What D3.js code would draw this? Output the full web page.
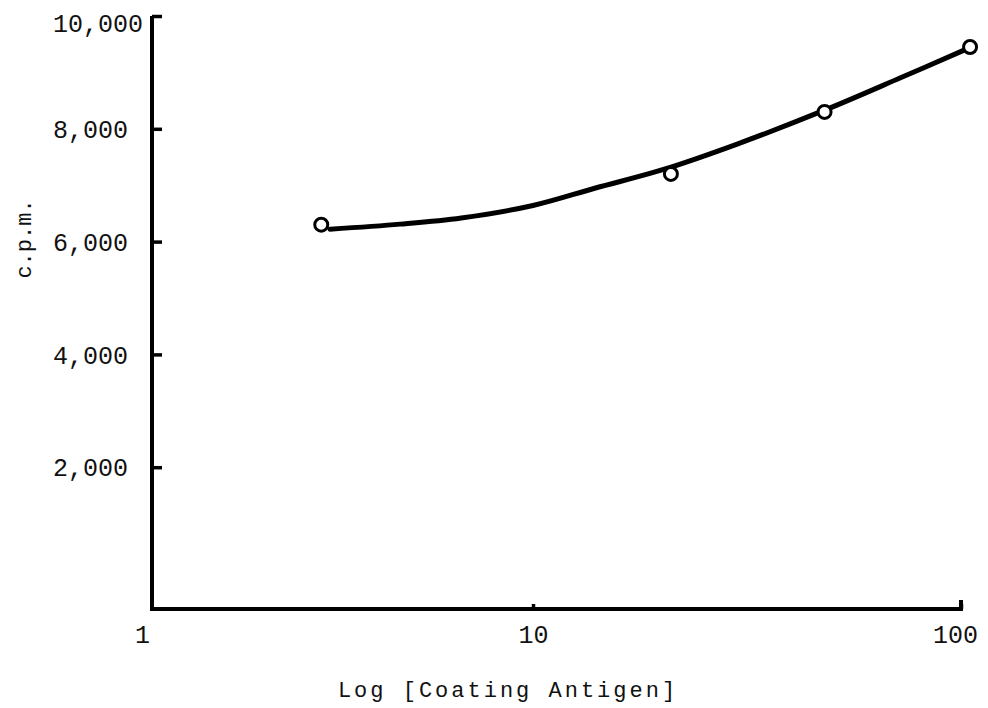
<!DOCTYPE html>
<html>
<head>
<meta charset="UTF-8">
<title>c.p.m. vs Log [Coating Antigen]</title>
<script src="https://cdn.jsdelivr.net/npm/d3@7"></script>
<style>
  body { margin: 0; background: #fff; }
  text { font-family: "Liberation Mono", "DejaVu Sans Mono", monospace; fill: #111; }
  .axis path, .axis line { stroke: #000; }
</style>
</head>
<body>
<svg width="988" height="708"></svg>
<script>
// measured points (circles)
var xValues = [2.8, 21, 48, 105];
var yValues = [6300, 7200, 8300, 9450];
// smooth fitted curve
var fitX = [2.95, 4.5, 6.5, 10, 14, 20, 30, 48, 72, 102];
var fitY = [6220, 6310, 6420, 6640, 6950, 7270, 7730, 8330, 8900, 9400];
// ticks
var xTicks = [1, 10, 100];
var yTicks = [2000, 4000, 6000, 8000, 10000];

var svg = d3.select("svg");

// hand drawn axis: decades are not quite the same width
var x = d3.scaleLog().domain([1, 10, 100]).range([150, 533, 961]);
var y = d3.scaleLinear().domain([-514, 10000]).range([609, 16]);

// y axis, ticks pointing inward
var yAxis = svg.append("g")
  .attr("class", "axis")
  .attr("transform", "translate(152,0)")
  .call(d3.axisLeft(y).tickValues(yTicks).tickFormat(d3.format(",")).tickSize(-10).tickSizeOuter(0));
yAxis.select(".domain").attr("stroke-width", 4).attr("d", "M0," + y(10000) + "V" + y(-514));
yAxis.selectAll(".tick line").attr("stroke-width", 3.5);
yAxis.selectAll(".tick text")
  .attr("x", -99)
  .attr("dy", "0.35em")
  .attr("text-anchor", "start")
  .style("font-size", "25px");
yAxis.selectAll(".tick").filter(function(d) { return d == 10000; })
  .select("text").attr("dy", "0.6em");

// x axis
var xAxis = svg.append("g")
  .attr("class", "axis")
  .attr("transform", "translate(0,609)")
  .call(d3.axisBottom(x).tickValues(xTicks).tickFormat(d3.format("d")).tickSize(-5).tickSizeOuter(0));
xAxis.select(".domain").attr("stroke-width", 4).attr("d", "M150,0H961V-9");
xAxis.selectAll(".tick line").attr("stroke-width", 3.5);
xAxis.selectAll(".tick text")
  .attr("y", 25)
  .attr("dy", "0.35em")
  .style("font-size", "25px");
xAxis.selectAll(".tick").filter(function(d) { return d == 1; })
  .select("line").remove();
xAxis.selectAll(".tick").filter(function(d) { return d == 1; })
  .select("text").attr("x", -8);
xAxis.selectAll(".tick").filter(function(d) { return d == 100; })
  .select("text").attr("x", -6);

// axis titles
svg.append("text")
  .attr("x", 508)
  .attr("y", 697)
  .attr("text-anchor", "middle")
  .style("font-size", "22px")
  .style("letter-spacing", "3px")
  .text("Log [Coating Antigen]");

svg.append("text")
  .attr("transform", "translate(31,239) rotate(-90)")
  .attr("text-anchor", "middle")
  .style("font-size", "22px")
  .text("c.p.m.");

// fitted curve
var fit = fitX.map(function(d, i) { return [d, fitY[i]]; });
var line = d3.line()
  .x(function(d) { return x(d[0]); })
  .y(function(d) { return y(d[1]); })
  .curve(d3.curveCatmullRom);

svg.append("path")
  .datum(fit)
  .attr("d", line)
  .attr("fill", "none")
  .attr("stroke", "#000")
  .attr("stroke-width", 5)
  .attr("stroke-linecap", "round");

// points
svg.selectAll("circle")
  .data(xValues)
  .enter()
  .append("circle")
  .attr("cx", function(d) { return x(d); })
  .attr("cy", function(d, i) { return y(yValues[i]); })
  .attr("r", 6.5)
  .attr("fill", "#fff")
  .attr("stroke", "#000")
  .attr("stroke-width", 3);
</script>
</body>
</html>
